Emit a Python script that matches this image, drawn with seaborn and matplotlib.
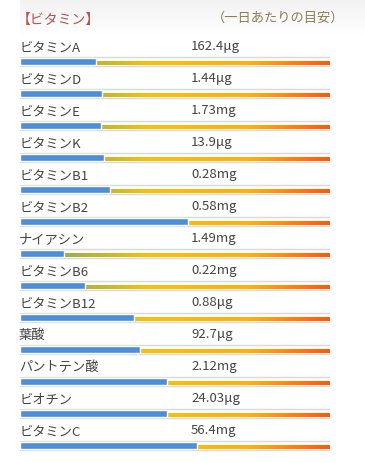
import numpy as np
import pandas as pd
import matplotlib
matplotlib.use('Agg')
import matplotlib.pyplot as plt
from matplotlib.colors import LinearSegmentedColormap
import seaborn as sns

# データ
names = ['ビタミンA', 'ビタミンD', 'ビタミンE', 'ビタミンK', 'ビタミンB1', 'ビタミンB2',
         'ナイアシン', 'ビタミンB6', 'ビタミンB12', '葉酸', 'パントテン酸', 'ビオチン', 'ビタミンC']
amounts = ['162.4μg', '1.44μg', '1.73mg', '13.9μg', '0.28mg', '0.58mg',
           '1.49mg', '0.22mg', '0.88μg', '92.7μg', '2.12mg', '24.03μg', '56.4mg']
ratio = [0.245, 0.264, 0.262, 0.272, 0.291, 0.542,
         0.142, 0.211, 0.368, 0.387, 0.473, 0.473, 0.572]

df = pd.DataFrame({'name': names, 'amount': amounts, 'ratio': ratio})

sns.set_theme(style='white')
plt.rcParams['font.family'] = ['Noto Sans CJK JP', 'DejaVu Sans']

W, H = 365, 464
fig = plt.figure(figsize=(W / 100, H / 100), dpi=100)
fig.patch.set_facecolor('white')

# ヘッダーの薄いグレー背景
bg = fig.add_axes([20 / W, 1 - 38 / H, 1 - 20 / W, 38 / H], zorder=0)
bg.imshow(np.linspace(0, 1, 50).reshape(-1, 1),
          cmap=LinearSegmentedColormap.from_list('bg', ['#f2f2f2', '#ffffff']),
          aspect='auto', extent=(0, 1, 0, 1))
bg.axis('off')

ax = fig.add_axes([20 / W, 0, 310 / W, 1], zorder=1)
ax.patch.set_alpha(0)

n = len(df)
y = np.arange(n)

# 枠（トラック）
ax.barh(y, [1.0] * n, height=0.28, color='white', edgecolor='#d9d9d9', linewidth=1.0, zorder=1)

# グラデーションライン
grad = LinearSegmentedColormap.from_list(
    'grad', [(0, '#6aa964'), (0.42, '#ffc000'), (0.75, '#ffb000'), (1.0, '#ff5a00')])
for i in y:
    ax.imshow(np.linspace(0, 1, 256).reshape(1, -1), cmap=grad, aspect='auto',
              extent=(0.003, 0.997, i + 0.115, i - 0.01), zorder=2, interpolation='bilinear')

# 青いバー
sns.barplot(data=df, x='ratio', y='name', orient='h', color='#4a8fd8', width=0.235,
            saturation=1, ax=ax, zorder=3)

for i, row in df.iterrows():
    ax.text(-0.003, i - 0.46, row['name'], ha='left', va='center', fontsize=9.5, color='#444444')
    ax.text(0.552, i - 0.50, row['amount'], ha='left', va='center', fontsize=9.5, color='#444444')

ax.text(-0.01, -1.33, '【ビタミン】', ha='left', va='center', fontsize=10, color='#c0504d')
ax.text(0.62, -1.37, '（一日あたりの目安）', ha='left', va='center', fontsize=9.5, color='#8a7f55')

ax.set_xlim(0, 1)
ax.set_ylim((H - 62.5) / 32, -62.5 / 32)
ax.set_xlabel('')
ax.set_ylabel('')
ax.set_xticks([])
ax.set_yticks([])
for s in ax.spines.values():
    s.set_visible(False)

fig.savefig('out.png', dpi=100)
